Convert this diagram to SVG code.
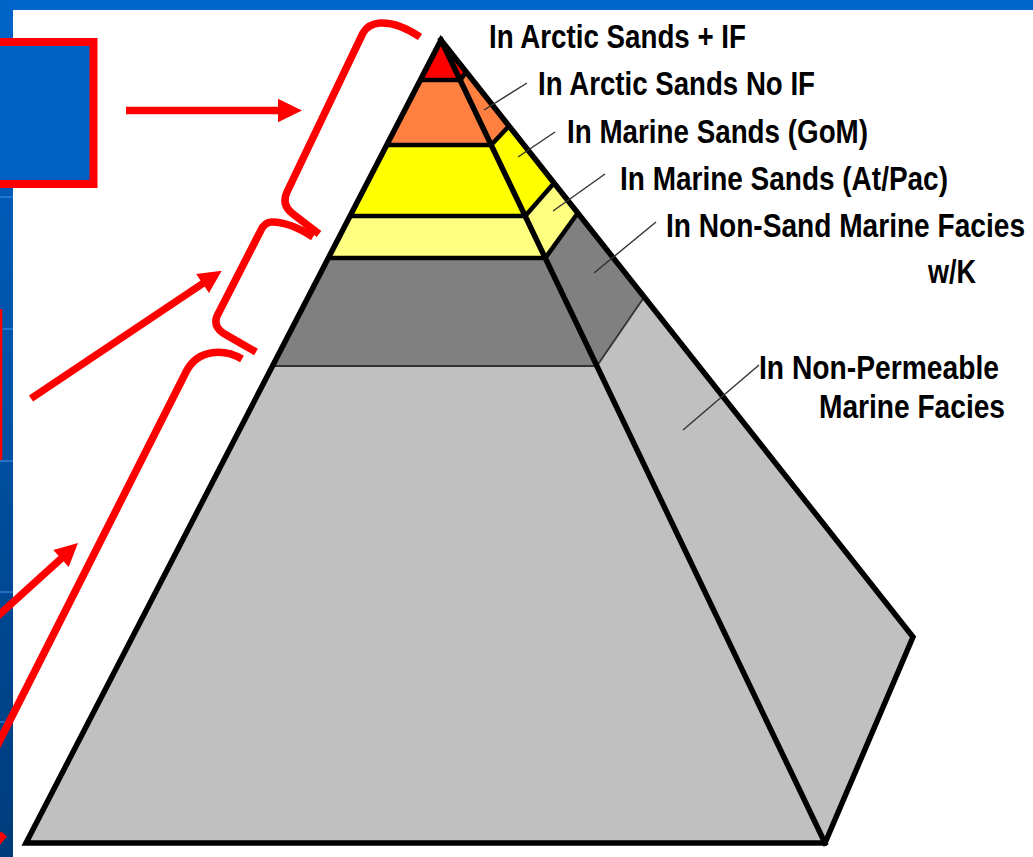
<svg xmlns="http://www.w3.org/2000/svg" width="1033" height="857" viewBox="0 0 1033 857">
<defs>
<linearGradient id="band" x1="0" y1="0" x2="0" y2="1">
<stop offset="0" stop-color="#0064C8"/>
<stop offset="1" stop-color="#003C7C"/>
</linearGradient>
</defs>
<style>
.lbl{font-family:"Liberation Sans",Arial,sans-serif;font-weight:bold;font-size:33px;fill:#000}
.edge{fill:none;stroke:#000;stroke-width:5.5;stroke-linejoin:miter;stroke-linecap:square}
.div{fill:none;stroke:#000;stroke-width:4.5}
.thin{fill:none;stroke:#333;stroke-width:1.8}
.lead{fill:none;stroke:#333;stroke-width:1.4}
.red{fill:none;stroke:#FF0000;stroke-width:7.5}
.redfill{fill:#FF0000}
</style>
<rect x="0" y="0" width="1033" height="857" fill="#FFFFFF"/>
<g id="background">
<rect x="0" y="0" width="1033" height="10" fill="#0066CC"/>
<rect x="0" y="0" width="13" height="857" fill="url(#band)"/>
<g fill="#2F80DA" opacity="0.7">
<rect x="0" y="196" width="13" height="2"/>
<rect x="0" y="328" width="13" height="2"/>
<rect x="0" y="460" width="13" height="2"/>
<rect x="0" y="591" width="13" height="2"/>
<rect x="0" y="721" width="13" height="2"/>
</g>
</g>
<g id="box-top">
<rect x="-20" y="42" width="113.5" height="142" fill="#0062C4" stroke="#FF0000" stroke-width="8"/>
</g>
<g id="box-mid">
<rect x="0" y="309" width="2.3" height="151" fill="#FF0000"/>
</g>
<g id="pyramid">
<g id="layer-red">
<polygon points="441,40 420.3,80 460.1,80" fill="#FF0000"/>
<polygon points="441,40 466.3,72 460.1,80" fill="#FF0000"/>
</g>
<g id="layer-orange">
<polygon points="420.3,80 460.1,80 491.2,145 386.7,145" fill="#FF8040"/>
<polygon points="460.1,80 466.3,72 509,126 491.2,145" fill="#FF8040"/>
</g>
<g id="layer-yellow">
<polygon points="386.7,145 491.2,145 525.2,216 350,216" fill="#FFFF00"/>
<polygon points="491.2,145 509,126 554.1,183 525.2,216" fill="#FFFF00"/>
</g>
<g id="layer-lightyellow">
<polygon points="350,216 525.2,216 545.3,258 328.3,258" fill="#FFFF80"/>
<polygon points="525.2,216 554.1,183 577.8,213 545.3,258" fill="#FFFF80"/>
</g>
<g id="layer-darkgray">
<polygon points="328.3,258 545.3,258 596.9,366 272.5,366" fill="#808080"/>
<polygon points="545.3,258 577.8,213 644.2,297 596.9,366" fill="#808080"/>
</g>
<g id="layer-lightgray">
<polygon points="272.5,366 596.9,366 825,843 26,843" fill="#C0C0C0"/>
<polygon points="596.9,366 644.2,297 913,637 825,843" fill="#C0C0C0"/>
</g>
<g id="outlines">
<line class="thin" x1="272.5" y1="366" x2="596.9" y2="366"/>
<line class="thin" x1="596.9" y1="366" x2="644.2" y2="297"/>
<line class="div" x1="420.3" y1="80" x2="460.1" y2="80"/>
<line class="div" x1="386.7" y1="145" x2="491.2" y2="145"/>
<line class="div" x1="350" y1="216" x2="525.2" y2="216"/>
<line class="div" x1="328.3" y1="258" x2="545.3" y2="258"/>
<line class="div" x1="460.1" y1="80" x2="466.3" y2="72" stroke-width="3"/>
<line class="div" x1="491.2" y1="145" x2="509" y2="126"/>
<line class="div" x1="525.2" y1="216" x2="554.1" y2="183"/>
<line class="div" x1="545.3" y1="258" x2="577.8" y2="213"/>
<line class="edge" x1="441" y1="40" x2="825" y2="843"/>
<polygon class="edge" points="441,40 26,843 825,843 913,637"/>
</g>
</g>
<g id="connectors">
<g id="leaders">
<line class="lead" x1="527" y1="83" x2="484" y2="110"/>
<line class="lead" x1="555" y1="132" x2="518" y2="157"/>
<line class="lead" x1="605" y1="174" x2="553" y2="211"/>
<line class="lead" x1="656" y1="222" x2="594" y2="273"/>
<line class="lead" x1="759" y1="365" x2="683" y2="430"/>
</g>
<g id="arrows">
<line class="red" x1="126" y1="110.5" x2="280" y2="110.5"/>
<polygon class="redfill" points="278,98.7 302,110.5 278,122.3"/>
<line class="red" x1="31" y1="398.5" x2="205" y2="282"/>
<polygon class="redfill" points="221.7,270.7 209,293 196.2,274"/>
<line class="red" x1="-10" y1="623" x2="64" y2="556"/>
<polygon class="redfill" points="78,543 68.7,567 53.3,550"/>
<line class="red" x1="-6" y1="846" x2="4" y2="834"/>
</g>
<g id="brackets">
<path class="red" d="M 420,37 Q 398,22 380,23 Q 368,24 363,33 L 287,192 Q 281,205 293,214 L 319,234"/>
<path class="red" d="M 313,237 Q 290,222 272,222 Q 264,222 260,232 L 217,316 Q 213,326 223,333 L 256,352"/>
<path class="red" d="M 242,359 C 225,349 198,348 186,372 L -5,750"/>
</g>
</g>
<g id="labels">
<text id="t1" class="lbl" x="489" y="48" textLength="257" lengthAdjust="spacingAndGlyphs">In Arctic Sands + IF</text>
<text id="t2" class="lbl" x="538" y="95" textLength="277" lengthAdjust="spacingAndGlyphs">In Arctic Sands No IF</text>
<text id="t3" class="lbl" x="567" y="143" textLength="301" lengthAdjust="spacingAndGlyphs">In Marine Sands (GoM)</text>
<text id="t4" class="lbl" x="620" y="190" textLength="328" lengthAdjust="spacingAndGlyphs">In Marine Sands (At/Pac)</text>
<text id="t5" class="lbl" x="666" y="237" textLength="359" lengthAdjust="spacingAndGlyphs">In Non-Sand Marine Facies</text>
<text id="t6" class="lbl" x="928" y="283" textLength="48" lengthAdjust="spacingAndGlyphs">w/K</text>
<text id="t7" class="lbl" x="759" y="379" textLength="240" lengthAdjust="spacingAndGlyphs">In Non-Permeable</text>
<text id="t8" class="lbl" x="819" y="418" textLength="186" lengthAdjust="spacingAndGlyphs">Marine Facies</text>
</g>
</svg>
